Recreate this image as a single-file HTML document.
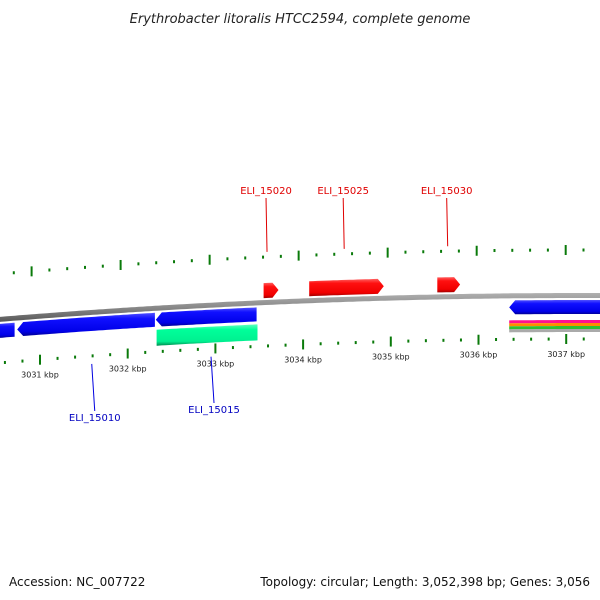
<!DOCTYPE html>
<html><head><meta charset="utf-8"><style>
html,body{margin:0;padding:0;background:#fff;}
svg{display:block;font-family:"DejaVu Sans","Liberation Sans",sans-serif;}
</style></head><body>
<svg id="c" width="600" height="600" viewBox="0 0 600 600">
<defs>
<linearGradient id="gBlue" x1="0" y1="0" x2="0" y2="1"><stop offset="0" stop-color="#5050ff"/><stop offset="0.25" stop-color="#1010ff"/><stop offset="0.8" stop-color="#0000e8"/><stop offset="1" stop-color="#000090"/></linearGradient>
<linearGradient id="gRed" x1="0" y1="0" x2="0" y2="1"><stop offset="0" stop-color="#ff6060"/><stop offset="0.25" stop-color="#ff1010"/><stop offset="0.8" stop-color="#f00000"/><stop offset="1" stop-color="#a00000"/></linearGradient>
<linearGradient id="gGreen" x1="0" y1="0" x2="0" y2="1"><stop offset="0" stop-color="#60ffc0"/><stop offset="0.25" stop-color="#00ff9a"/><stop offset="0.8" stop-color="#00f090"/><stop offset="1" stop-color="#008a50"/></linearGradient>
<linearGradient id="gGray" x1="0" y1="0" x2="0" y2="1"><stop offset="0" stop-color="#b0b0b0"/><stop offset="0.5" stop-color="#888"/><stop offset="1" stop-color="#555"/></linearGradient>
</defs>
<text x="300" y="23" text-anchor="middle" font-size="13" font-style="italic" fill="#222">Erythrobacter litoralis HTCC2594, complete genome</text>
<text x="9" y="586" font-size="12" fill="#111">Accession: NC_007722</text>
<text x="590" y="586" font-size="12" fill="#111" text-anchor="end">Topology: circular; Length: 3,052,398 bp; Genes: 3,056</text>
<g id="layer"></g>
</svg>
<script>
// data (kbp positions)
const fwdGenes = [[3033.55,3033.72],[3034.07,3034.92],[3035.53,3035.79]];
const revGenes = [[3030.45,3030.71],[3030.74,3032.31],[3032.32,3033.47],[3036.35,3037.5]];
const otherFeat = [[3032.33,3033.48]];
const stripeFeat = [[3036.35,3037.5]];
const fwdLabels = [["ELI_15020",3033.6],["ELI_15025",3034.48],["ELI_15030",3035.66]];
const revLabels = [["ELI_15010",3031.59],["ELI_15015",3032.95]];
const tickLabels = [3031,3032,3033,3034,3035,3036,3037];

const NS='http://www.w3.org/2000/svg';
const layer=document.getElementById('layer');
function X(k){return 40+(k-3031)*87.7;}
function Y(x){return 295+7.1e-5*(x-580)*(x-580);}
function el(t,a){const e=document.createElementNS(NS,t);for(const k in a)e.setAttribute(k,a[k]);layer.appendChild(e);return e;}
function band(x1,x2,o1,o2){let p=[];for(let x=x1;x<=x2;x+=4)p.push([x,Y(x)+o1]);p.push([x2,Y(x2)+o1]);let q=[];for(let x=x2;x>=x1;x-=4)q.push([x,Y(x)+o2]);q.push([x1,Y(x1)+o2]);return p.concat(q);}
function pts(a){return a.map(p=>p[0].toFixed(1)+','+p[1].toFixed(1)).join(' ');}

// backbone
let bb=band(-5,605,-2,3);
let b=el('polygon',{points:pts(bb),fill:'url(#gGray)'});



// ticks
for(let k=3030.4;k<=3037.5;k+=0.2){
  const kk=Math.round(k*10)/10;
  const major=Math.abs(kk-Math.round(kk))<0.01;
  const xu=X(kk)-9+ (X(kk)/600)*9, xl=X(kk);
  const h=major?5:1.5;
  let yu=Y(xu)-45;
  let t1=el('line',{x1:xu,y1:yu-h,x2:xu,y2:yu+h,stroke:'#0a7a0a','stroke-width':2});
  
  
  let yl=Y(xl)+44;
  let t2=el('line',{x1:xl,y1:yl-h,x2:xl,y2:yl+h,stroke:'#0a7a0a','stroke-width':2});
  
  
}
tickLabels.forEach(k=>{const x=X(k);const t=el('text',{x:x,y:Y(x)+62,'font-size':8,'text-anchor':'middle',fill:'#222'});t.textContent=k+' kbp';
  
  });

// features
otherFeat.forEach(g=>{const p=band(X(g[0]),X(g[1]),22,38);const e=el('polygon',{points:pts(p),fill:'url(#gGreen)'});
  
  });
stripeFeat.forEach(g=>{const x1=X(g[0]),x2=605;const cols=['#ff1090','#ff8c00','#30c030','#aaaaaa'];
  cols.forEach((c,i)=>{const e=el('polygon',{points:pts(band(x1,x2,25+i*3,28+i*3)),fill:c});
  
  });});
revGenes.forEach(g=>{const x1=X(g[0]),x2=X(g[1]);const p=band(x1+6,x2,5,19);const y=Y(x1);p.push([x1,y+12]);
  const e=el('polygon',{points:pts(p),fill:'url(#gBlue)'});
  
  });
fwdGenes.forEach(g=>{const x1=X(g[0]),x2=X(g[1]);
  const top=[];for(let x=x1;x<x2-6;x+=4)top.push([x,Y(x)-19]);top.push([x2-6,Y(x2-6)-19]);top.push([x2,Y(x2)-11.5]);
  top.push([x2-6,Y(x2-6)-4]);for(let x=x2-6;x>=x1;x-=4)top.push([x,Y(x)-4]);top.push([x1,Y(x1)-4]);
  const e=el('polygon',{points:pts(top),fill:'url(#gRed)'});
  
  });

// labels
fwdLabels.forEach(l=>{const x=X(l[1]);const y=Y(x);
  const ln=el('line',{x1:x-1,y1:y-50,x2:x-2,y2:198,stroke:'#e00000','stroke-width':1});
  
  
  const t=el('text',{x:x-2,y:194,'font-size':10,'text-anchor':'middle',fill:'#e00000'});t.textContent=l[0];
  
  });
revLabels.forEach((l,i)=>{const x=X(l[1]);const y=Y(x);const ly=i==0?421:413;
  const ln=el('line',{x1:x,y1:y+52,x2:x+3,y2:ly-10,stroke:'#0000e0','stroke-width':1});
  
  
  const t=el('text',{x:x+3,y:ly,'font-size':10,'text-anchor':'middle',fill:'#0000c0'});t.textContent=l[0];
  
  });
</script>
</body></html>
